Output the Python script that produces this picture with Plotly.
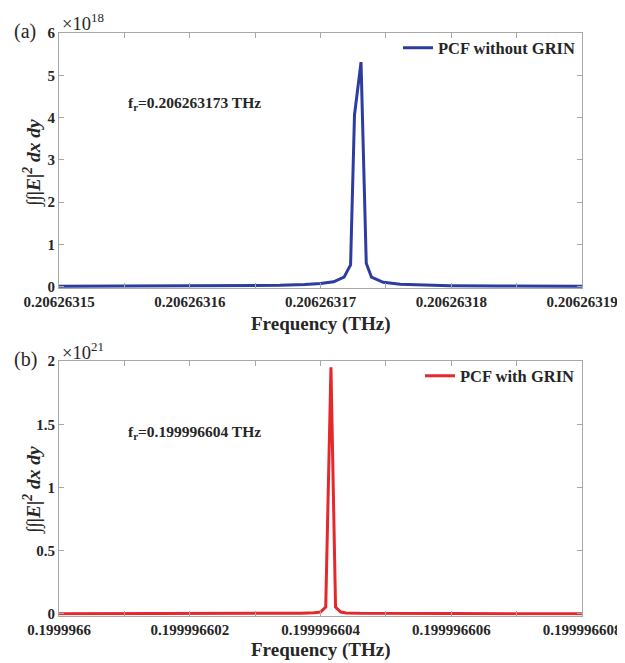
import plotly.graph_objects as go

# ---------------- data ----------------
freq_a = [0.20626315, 0.2062631570, 0.2062631631, 0.2062631669, 0.2062631688,
          0.2062631700, 0.2062631710, 0.2062631718, 0.2062631723, 0.2062631726,
          0.2062631731, 0.2062631735, 0.2062631739, 0.2062631748, 0.2062631761,
          0.2062631776, 0.2062631799, 0.2062631837, 0.20626319]
energy_a = [0.005e18, 0.008e18, 0.015e18, 0.028e18, 0.045e18,
            0.070e18, 0.110e18, 0.220e18, 0.510e18, 4.060e18,
            5.310e18, 0.550e18, 0.220e18, 0.100e18, 0.055e18,
            0.035e18, 0.020e18, 0.010e18, 0.005e18]

freq_b = [0.1999966, 0.1999966022, 0.1999966037, 0.1999966039, 0.199996604,
          0.19999660408, 0.19999660416, 0.19999660423, 0.19999660431,
          0.19999660439, 0.1999966046, 0.1999966060, 0.199996608]
energy_b = [0.002e21, 0.003e21, 0.006e21, 0.010e21, 0.015e21,
            0.055e21, 1.950e21, 0.055e21, 0.015e21,
            0.008e21, 0.005e21, 0.003e21, 0.002e21]

xtick_a = [0.20626315, 0.206263155, 0.20626316, 0.206263165, 0.20626317,
           0.206263175, 0.20626318, 0.206263185, 0.20626319]
xtext_a = ["0.20626315", "", "0.20626316", "", "0.20626317", "",
           "0.20626318", "", "0.20626319"]
ytick_a = [0, 1e18, 2e18, 3e18, 4e18, 5e18, 6e18]
ytext_a = ["0", "1", "2", "3", "4", "5", "6"]

xtick_b = [0.1999966, 0.199996601, 0.199996602, 0.199996603, 0.199996604,
           0.199996605, 0.199996606, 0.199996607, 0.199996608]
xtext_b = ["0.1999966", "", "0.199996602", "", "0.199996604", "",
           "0.199996606", "", "0.199996608"]
ytick_b = [0, 0.5e21, 1e21, 1.5e21, 2e21]
ytext_b = ["0", "0.5", "1", "1.5", "2"]

name_a = "PCF without GRIN"
name_b = "PCF with GRIN"
fr_a = "f<sub>r</sub>=0.206263173 THz"
fr_b = "f<sub>r</sub>=0.199996604 THz"

# ---------------- style ----------------
OFF = 8                      # default body margin of the html page
W, H = 625 - OFF, 663 - OFF
FONT = "Liberation Serif"
TXT = "#262626"
AX = "#a8a8a8"
BLUE = "#2d3c9f"
RED = "#e4282b"


def px(x):
    return (x - OFF) / W


def py(y):
    return (H - (y - OFF)) / H


fig = go.Figure()
fig.add_trace(go.Scatter(x=freq_a, y=energy_a, mode="lines", name=name_a,
                         line=dict(color=BLUE, width=3), xaxis="x", yaxis="y",
                         legend="legend"))
fig.add_trace(go.Scatter(x=freq_b, y=energy_b, mode="lines", name=name_b,
                         line=dict(color=RED, width=3), xaxis="x2", yaxis="y2",
                         legend="legend2"))

axis_common = dict(showline=True, linecolor=AX, linewidth=1, mirror="ticks",
                   ticks="inside", ticklen=5, tickcolor=AX, tickwidth=1,
                   showgrid=False, zeroline=False, automargin=False,
                   tickfont=dict(family=FONT, size=15, color=TXT, weight="bold"))

fig.update_layout(
    template="none",
    width=W, height=H, autosize=False,
    margin=dict(l=0, r=0, t=0, b=0, pad=0),
    paper_bgcolor="white", plot_bgcolor="white",
    font=dict(family=FONT, color=TXT),
    xaxis=dict(domain=[px(59), px(582)], range=[xtick_a[0], xtick_a[-1]],
               tickvals=xtick_a, ticktext=xtext_a, anchor="y", **axis_common),
    yaxis=dict(domain=[py(288.2), py(33)], range=[-0.04e18, 6e18],
               tickvals=ytick_a, ticktext=ytext_a, anchor="x", **axis_common),
    xaxis2=dict(domain=[px(59), px(582)], range=[xtick_b[0], xtick_b[-1]],
                tickvals=xtick_b, ticktext=xtext_b, anchor="y2", **axis_common),
    yaxis2=dict(domain=[py(615.5), py(361)], range=[-0.012e21, 2e21],
                tickvals=ytick_b, ticktext=ytext_b, anchor="x2", **axis_common),
    legend=dict(x=px(580), y=py(48), xanchor="right", yanchor="middle",
                bgcolor="rgba(0,0,0,0)", borderwidth=0,
                font=dict(family=FONT, size=16.5, color=TXT, weight="bold")),
    legend2=dict(x=px(580), y=py(376), xanchor="right", yanchor="middle",
                 bgcolor="rgba(0,0,0,0)", borderwidth=0,
                 font=dict(family=FONT, size=16.5, color=TXT, weight="bold")),
    showlegend=True,
)

ann = []


def note(x, y, text, size, xanchor="center", angle=0):
    ann.append(dict(x=px(x), y=py(y), xref="paper", yref="paper",
                    xanchor=xanchor, yanchor="middle", text=text,
                    showarrow=False, textangle=angle,
                    font=dict(family=FONT, size=size, color=TXT)))


# axis titles
note(320.5, 324, "<b>Frequency (THz)</b>", 19)
note(320.5, 650, "<b>Frequency (THz)</b>", 19)
note(33, 163, "<b><i>∫∫|E|<sup>2</sup> dx dy</i></b>", 19.5, angle=-90)
note(33, 490, "<b><i>∫∫|E|<sup>2</sup> dx dy</i></b>", 19.5, angle=-90)
# panel labels
note(12, 31, "(a)", 20, xanchor="left")
note(12, 360, "(b)", 20, xanchor="left")
# exponent labels
note(60, 22, "×10<sup>18</sup>", 18.5, xanchor="left")
note(60, 351, "×10<sup>21</sup>", 18.5, xanchor="left")
# resonance labels
note(126, 104, "<b>" + fr_a + "</b>", 15.5, xanchor="left")
note(126, 432, "<b>" + fr_b + "</b>", 15.5, xanchor="left")

fig.update_layout(annotations=ann)

fig.write_html("out.html")
